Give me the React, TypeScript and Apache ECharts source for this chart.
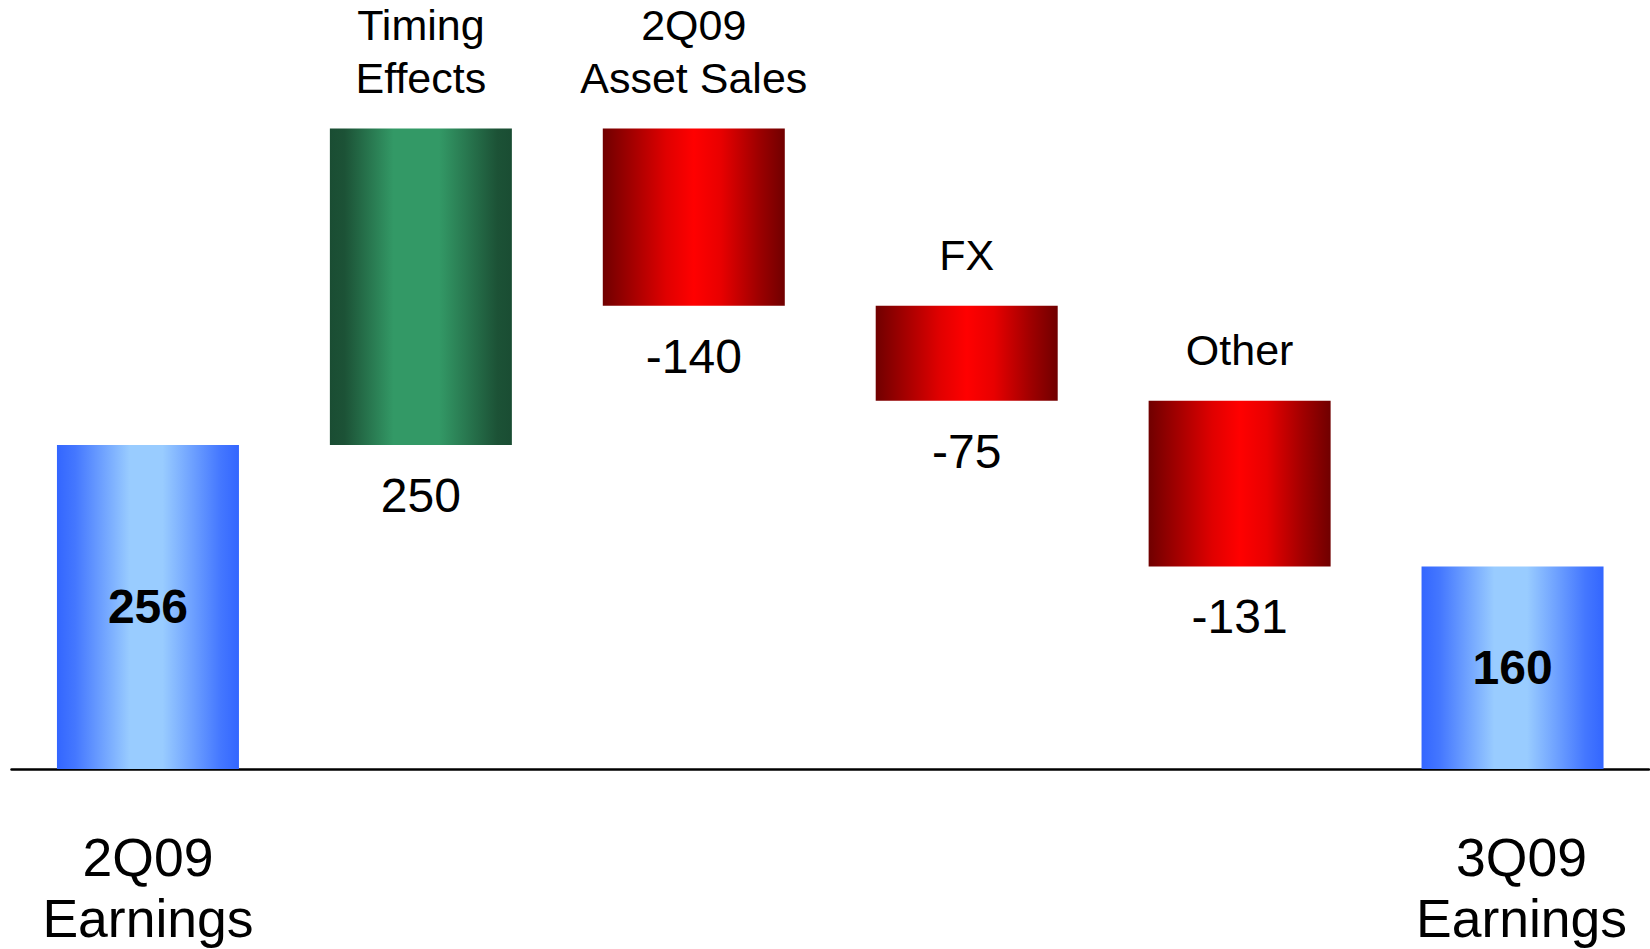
import React, { useEffect, useRef } from "react";
import * as echarts from "echarts";

const categories = ["2Q09\nEarnings", "Timing\nEffects", "2Q09\nAsset Sales", "FX", "Other", "3Q09\nEarnings"];
const kinds = ["total", "change", "change", "change", "change", "total"];
const values = [256, 250, -140, -75, -131, 160];

const FONT = "'Liberation Sans', Arial, sans-serif";

function grad(stops: [number, string][]) {
  return new echarts.graphic.LinearGradient(0, 0, 1, 0, stops.map(([offset, color]) => ({ offset, color })));
}

const blue = () => grad([[0, "#3366FF"], [0.1, "#4477FF"], [0.4, "#99CCFF"], [0.58, "#99CCFF"], [0.9, "#4477FF"], [1, "#3366FF"]]);
const green = () => grad([[0, "#1A4D33"], [0.08, "#1C5236"], [0.35, "#339966"], [0.6, "#339966"], [0.92, "#1C5236"], [1, "#1A4D33"]]);
const red = () => grad([[0, "#700000"], [0.15, "#A00000"], [0.35, "#E00000"], [0.5, "#FF0000"], [0.65, "#E80000"], [0.85, "#A00000"], [1, "#700000"]]);

export default function App() {
  const ref = useRef<HTMLDivElement>(null);
  useEffect(() => {
    if (!ref.current) return;
    const chart = echarts.init(ref.current, null, { renderer: "svg" });

    const bases: number[] = [];
    const heights: number[] = [];
    let running = 0;
    values.forEach((v, i) => {
      if (kinds[i] === "total") {
        bases.push(0);
        heights.push(v);
        running = v;
      } else if (v >= 0) {
        bases.push(running);
        heights.push(v);
        running += v;
      } else {
        running += v;
        bases.push(running);
        heights.push(-v);
      }
    });

    const barData = heights.map((h, i) => {
      const isTotal = kinds[i] === "total";
      const color = isTotal ? blue() : values[i] >= 0 ? green() : red();
      return {
        value: h,
        itemStyle: { color },
        label: isTotal
          ? {
              show: true,
              position: "inside",
              formatter: String(values[i]),
              fontFamily: FONT,
              fontSize: 48,
              fontWeight: "bold",
              color: "#000",
            }
          : {
              show: true,
              position: "bottom",
              distance: 24,
              formatter: String(values[i]),
              fontFamily: FONT,
              fontSize: 48,
              lineHeight: 53,
              color: "#000",
            },
      };
    });

    const capData = categories.map((c, i) => ({
      value: 0,
      label:
        kinds[i] === "total"
          ? { show: false }
          : {
              show: true,
              position: "top",
              distance: 24,
              formatter: c,
              fontFamily: FONT,
              fontSize: 43,
              lineHeight: 53,
              color: "#000",
            },
    }));

    const axisData = categories.map((c, i) => ({
      value: c,
      textStyle: i === categories.length - 1 ? { padding: [0, 0, 0, 18] } : {},
    }));

    chart.setOption({
      animation: false,
      backgroundColor: "#fff",
      grid: { left: 11.5, right: 1, top: 9.6, bottom: 180, containLabel: false },
      xAxis: {
        type: "category",
        data: axisData,
        axisLine: { show: true, lineStyle: { color: "#000", width: 2.5 } },
        axisTick: { show: false },
        axisLabel: {
          interval: 0,
          margin: 58,
          fontFamily: FONT,
          fontSize: 53.5,
          lineHeight: 61,
          color: "#000",
          formatter: (val: string, idx: number) => (kinds[idx] === "total" ? val : ""),
        },
        splitLine: { show: false },
      },
      yAxis: {
        type: "value",
        min: 0,
        max: 600,
        show: false,
        splitLine: { show: false },
      },
      series: [
        {
          type: "bar",
          stack: "wf",
          data: bases,
          barWidth: 182,
          itemStyle: { color: "transparent" },
          silent: true,
        },
        {
          type: "bar",
          stack: "wf",
          data: barData,
          barWidth: 182,
        },
        {
          type: "bar",
          stack: "wf",
          data: capData,
          barWidth: 182,
          itemStyle: { color: "transparent" },
          silent: true,
        },
      ],
    });
    return () => chart.dispose();
  }, []);
  return <div ref={ref} style={{ position: "fixed", left: 0, top: 0, width: 1650, height: 949 }} />;
}
